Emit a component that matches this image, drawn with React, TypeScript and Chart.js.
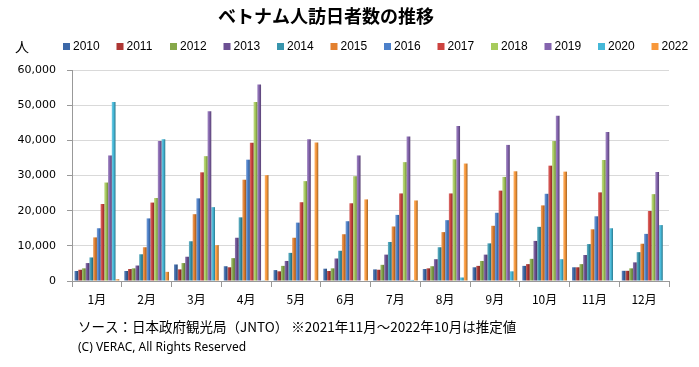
import React, { useEffect, useRef } from "react";
import { Chart, registerables } from "chart.js";

Chart.register(...registerables);

const months = ["1月", "2月", "3月", "4月", "5月", "6月", "7月", "8月", "9月", "10月", "11月", "12月"];
const years = ["2010", "2011", "2012", "2013", "2014", "2015", "2016", "2017", "2018", "2019", "2020", "2022"];

const v2010 = [2850, 2850, 4700, 4200, 3100, 3500, 3300, 3400, 3900, 4300, 3900, 2900];
const v2011 = [3200, 3400, 3300, 3900, 2750, 2850, 3200, 3600, 4300, 4800, 3900, 2900];
const v2012 = [3600, 3600, 5100, 6500, 4300, 3600, 4600, 4200, 5700, 6300, 4800, 3600];
const v2013 = [5100, 4400, 6900, 12300, 5700, 6400, 7500, 6200, 7500, 11400, 7400, 5300];
const v2014 = [6700, 7600, 11300, 18100, 8000, 8600, 11100, 9600, 10700, 15400, 10500, 8200];
const v2015 = [12400, 9600, 19000, 28800, 12300, 13300, 15500, 13900, 15700, 21500, 14700, 10600];
const v2016 = [15000, 17800, 23500, 34500, 16600, 17000, 18800, 17300, 19400, 24800, 18400, 13400];
const v2017 = [21900, 22300, 30900, 39300, 22400, 22100, 24900, 24900, 25700, 32800, 25200, 19900];
const v2018 = [28000, 23600, 35500, 50900, 28400, 29800, 33800, 34600, 29600, 39800, 34400, 24700];
const v2019 = [35700, 39800, 48300, 55900, 40300, 35700, 41100, 44100, 38700, 47000, 42400, 31000];
const v2020 = [50900, 40300, 21000, 200, 100, 150, 300, 1000, 2750, 6200, 15000, 15900];
const v2022 = [500, 2600, 10200, 30100, 39400, 23200, 22900, 33400, 31200, 31100, null, null];

const seriesValues = [v2010, v2011, v2012, v2013, v2014, v2015, v2016, v2017, v2018, v2019, v2020, v2022];
const colors = [
  "#3C68A8", "#AE3633", "#86A84A", "#6C5093", "#3795AD", "#E3802F",
  "#4C80CA", "#CD433F", "#A7CB5C", "#8464AE", "#45B8D8", "#F8983A",
];
const yTicks = [0, 10000, 20000, 30000, 40000, 50000, 60000];

const titleText = "ベトナム人訪日者数の推移";
const unitText = "人";
const footer1 = "ソース：日本政府観光局（JNTO） ※2021年11月～2022年10月は推定値";
const footer2 = "(C) VERAC, All Rights Reserved";

const JP = '"Noto Sans CJK JP", "Noto Sans", sans-serif';
const CAT_PCT = 0.9;

function shade(hex: string, f: number) {
  const n = parseInt(hex.slice(1), 16);
  let r = (n >> 16) & 255, g = (n >> 8) & 255, b = n & 255;
  if (f >= 0) {
    r = r + (255 - r) * f; g = g + (255 - g) * f; b = b + (255 - b) * f;
  } else {
    r = r * (1 + f); g = g * (1 + f); b = b * (1 + f);
  }
  return `rgb(${Math.round(r)},${Math.round(g)},${Math.round(b)})`;
}

function barFill(c: any) {
  const base = colors[c.datasetIndex];
  const chart = c.chart;
  const xs = chart.scales && chart.scales.x;
  if (!xs || c.type !== "data" || !chart.chartArea) return base;
  const n = chart.data.datasets.length;
  const cat = xs.width / chart.data.labels.length;
  const w = (cat * CAT_PCT) / n;
  const center = xs.getPixelForValue(c.dataIndex) + (c.datasetIndex - (n - 1) / 2) * w;
  const g = chart.ctx.createLinearGradient(center - w / 2, 0, center + w / 2, 0);
  g.addColorStop(0, shade(base, 0.25));
  g.addColorStop(0.45, base);
  g.addColorStop(1, shade(base, -0.35));
  return g;
}

const textPlugin = {
  id: "extraText",
  afterDraw(chart: any) {
    const ctx = chart.ctx;
    ctx.save();
    ctx.fillStyle = "#000";
    ctx.textBaseline = "middle";
    ctx.textAlign = "center";
    ctx.font = `bold 18px ${JP}`;
    ctx.fillText(titleText, 326, 16);
    ctx.textAlign = "left";
    ctx.font = `14px ${JP}`;
    ctx.fillText(unitText, 15, 47);
    // legend
    ctx.font = `12px "Liberation Sans", sans-serif`;
    chart.data.datasets.forEach((ds: any, i: number) => {
      const x = 63 + i * 53.5;
      ctx.fillStyle = colors[i];
      ctx.fillRect(x, 43, 7, 7);
      ctx.fillStyle = "#000";
      ctx.fillText(ds.label, x + 10, 47);
    });
    ctx.font = `13.5px ${JP}`;
    ctx.fillText(footer1, 78, 327);
    ctx.font = `12px "Noto Sans", sans-serif`;
    ctx.fillText(footer2, 78, 348);
    ctx.restore();
  },
};

export default function App() {
  const ref = useRef<HTMLCanvasElement>(null);
  useEffect(() => {
    document.body.style.margin = "0";
    const chart = new Chart(ref.current as HTMLCanvasElement, {
      type: "bar",
      data: {
        labels: months,
        datasets: years.map((y, i) => ({
          label: y,
          data: seriesValues[i],
          backgroundColor: barFill,
          borderWidth: 0,
          categoryPercentage: CAT_PCT,
          barPercentage: 1.0,
        })),
      },
      options: {
        responsive: false,
        animation: false,
        devicePixelRatio: 1,
        layout: { padding: { top: 70, right: 30, bottom: 46, left: 0 } },
        plugins: {
          legend: { display: false },
          title: { display: false },
          tooltip: { enabled: false },
        },
        scales: {
          x: {
            grid: {
              offset: true,
              drawOnChartArea: false,
              drawTicks: true,
              tickLength: 6,
              tickColor: "#999",
            },
            border: { color: "#999" },
            ticks: { color: "#000", font: { size: 12, family: JP }, padding: 5 },
            afterFit: (s: any) => {
              s.height = 40;
            },
          },
          y: {
            min: 0,
            max: 60000,
            afterBuildTicks: (s: any) => {
              s.ticks = yTicks.map((v) => ({ value: v }));
            },
            grid: { color: "#D9D9D9", tickColor: "#999", tickLength: 5 },
            border: { color: "#999" },
            ticks: {
              color: "#000",
              font: { size: 11, family: '"DejaVu Sans", sans-serif' },
              padding: 11,
              callback: (v: any) => Number(v).toLocaleString("en-US"),
            },
            afterFit: (s: any) => {
              s.width = 72;
            },
          },
        },
      },
      plugins: [textPlugin],
    });
    return () => chart.destroy();
  }, []);
  return (
    <div style={{ position: "absolute", left: 0, top: 0, width: 699, height: 367, background: "#fff" }}>
      <canvas ref={ref} width={699} height={367} />
    </div>
  );
}
